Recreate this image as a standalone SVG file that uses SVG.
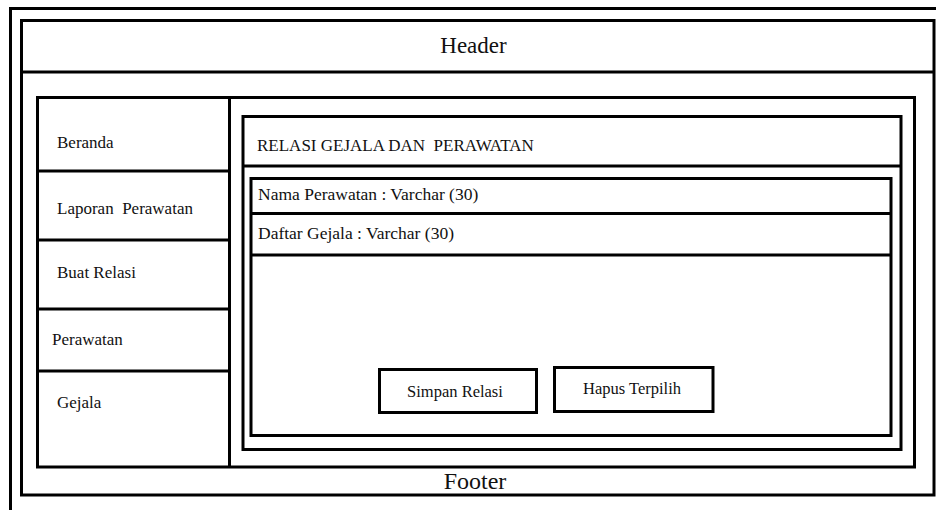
<svg xmlns="http://www.w3.org/2000/svg" width="936" height="510" viewBox="0 0 936 510">
<style>
.b{fill:none;stroke:#000;stroke-width:3}
.t{font-family:"Liberation Serif","Times New Roman",serif;fill:#111;font-size:17px;white-space:pre}
.f{font-size:17.5px}
.s{font-size:16.5px}
</style>
<rect x="0" y="0" width="936" height="510" fill="#fff"/>
<g id="frame">
<path class="b" d="M10.5 515 V8.5 H940"/>
<rect class="b" x="21.5" y="20.5" width="912.5" height="474.5"/>
</g>
<g id="header">
<line class="b" x1="21.5" y1="72" x2="934" y2="72"/>
<text class="t" x="473.5" y="53" text-anchor="middle" style="font-size:23px">Header</text>
</g>
<g id="body">
<rect class="b" x="37.5" y="97.5" width="877" height="369.5"/>
</g>
<g id="sidebar">
<line class="b" x1="229.5" y1="97.5" x2="229.5" y2="467"/>
<g id="menu-beranda"><text class="t" x="57" y="148">Beranda</text></g>
<line class="b" x1="37.5" y1="171" x2="229.5" y2="171"/>
<g id="menu-laporan"><text class="t" x="57" y="213.5">Laporan  Perawatan</text></g>
<line class="b" x1="37.5" y1="240" x2="229.5" y2="240"/>
<g id="menu-relasi"><text class="t" x="57" y="278">Buat Relasi</text></g>
<line class="b" x1="37.5" y1="309" x2="229.5" y2="309"/>
<g id="menu-perawatan"><text class="t" x="52" y="345">Perawatan</text></g>
<line class="b" x1="37.5" y1="371" x2="229.5" y2="371"/>
<g id="menu-gejala"><text class="t" x="57" y="407.5">Gejala</text></g>
</g>
<g id="content">
<rect class="b" x="243" y="116.5" width="658" height="333"/>
<line class="b" x1="243" y1="166" x2="901" y2="166"/>
<text class="t" x="257" y="151">RELASI GEJALA DAN  PERAWATAN</text>
</g>
<g id="form">
<rect class="b" x="251" y="178.5" width="640" height="257"/>
<line class="b" x1="251" y1="213.5" x2="891" y2="213.5"/>
<line class="b" x1="251" y1="255" x2="891" y2="255"/>
<text class="t f" x="258" y="200">Nama Perawatan : Varchar (30)</text>
<text class="t f" x="258" y="238.5">Daftar Gejala : Varchar (30)</text>
</g>
<g id="btn-simpan">
<rect class="b" x="379.5" y="369.5" width="157" height="43"/>
<text class="t s" x="455" y="396.5" text-anchor="middle">Simpan Relasi</text>
</g>
<g id="btn-hapus">
<rect class="b" x="554.5" y="367.5" width="158.5" height="44"/>
<text class="t s" x="632" y="393.5" text-anchor="middle">Hapus Terpilih</text>
</g>
<g id="footer">
<text class="t" x="475" y="488.5" text-anchor="middle" style="font-size:24px">Footer</text>
</g>
</svg>
